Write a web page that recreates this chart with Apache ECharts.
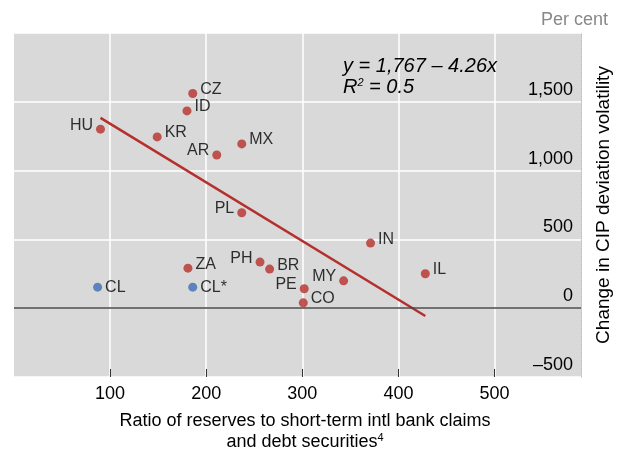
<!DOCTYPE html>
<html><head><meta charset="utf-8">
<script src="https://cdn.jsdelivr.net/npm/echarts@6/dist/echarts.min.js"></script>
<style>html,body{margin:0;padding:0;background:#fff}#c{width:621px;height:453px}</style>
</head><body><div id="c"></div>
<script>
const redCodes = ['CZ','ID','HU','KR','AR','MX','PL','IN','ZA','PH','BR','MY','PE','CO','IL'];
const redX = [186,180,90,149,211,237,237,371,181,256,266,343,302,301,428];
const redY = [1560,1434,1301,1245,1113,1194,694,473,291,335,284,199,141,39,250];
const redLabelSide = ['right','right','left','right','left','right','left','right','right','left','right','left','left','right','right'];
const blueCodes = ['CL','CL*'];
const blueX = [87,186];
const blueY = [153,153];
const fitIntercept = 1767, fitSlope = -4.26;
const fitXRange = [90, 428];
const xTicks = [100,200,300,400,500];
const yTicks = [-500,0,500,1000,1500];

const font = 'Liberation Sans, Arial, sans-serif';
const red = '#b5302c', blue = '#3c6db4', ink = '#000';

function pts(xs, ys, codes, sides){
  return xs.map((x,i)=>({value:[x,ys[i]], name:codes[i],
    label:{position: sides? sides[i]:'right'}}));
}
const fitData = fitXRange.map(x=>[x, fitIntercept + fitSlope*x]);

const chart = echarts.init(document.getElementById('c'), null, {renderer:'canvas'});
chart.setOption({
  animation:false,
  textStyle:{fontFamily:font},
  grid:{left:14, right:34, top:33, bottom:76, show:true, backgroundColor:'#d9d9d9', borderWidth:0},
  xAxis:{type:'value', min:0, max:590, interval:100,
    axisLine:{show:false, onZero:false},
    axisTick:{show:true, inside:true, length:8, customValues:xTicks, lineStyle:{color:'#333', width:1}},
    axisLabel:{customValues:xTicks, color:ink, fontSize:18, margin:8, fontFamily:font},
    splitLine:{show:true, lineStyle:{color:'#fff', width:1.5}}
  },
  yAxis:{type:'value', position:'right', min:-500, max:2000, interval:500,
    axisLine:{show:true, onZero:false, lineStyle:{color:'#bbb', type:'dotted', width:1}},
    axisTick:{show:false},
    axisLabel:{inside:true, margin:8, customValues:yTicks, verticalAlign:'bottom', padding:[0,0,3,0],
      color:ink, fontSize:18, fontFamily:font,
      formatter:v=> v<0 ? '\u2013'+Math.abs(v).toLocaleString('en-US') : v.toLocaleString('en-US')},
    splitLine:{show:true, lineStyle:{color:'#fff', width:1.5}},
    name:'Change in CIP deviation volatility', nameLocation:'middle', nameRotate:90, nameGap:13,
    nameTextStyle:{color:ink, fontSize:19, fontFamily:font}
  },
  series:[
    {type:'line', data:fitData, symbol:'none', lineStyle:{color:red, width:2.5}, z:2,
     markLine:{silent:true, symbol:'none', label:{show:false}, lineStyle:{color:'#444', width:1.5, type:'solid'},
       data:[{yAxis:0}]}},
    {type:'scatter', data:pts(redX, redY, redCodes, redLabelSide), symbolSize:9, itemStyle:{color:red}, z:3,
     label:{show:true, formatter:p=>p.name, color:ink, fontSize:16, fontFamily:font, distance:3, offset:[0,-4]}},
    {type:'scatter', data:pts(blueX, blueY, blueCodes), symbolSize:9, itemStyle:{color:blue}, z:3,
     label:{show:true, formatter:p=>p.name, color:ink, fontSize:16, fontFamily:font, distance:3, offset:[0,0]}}
  ],
  graphic:[
    {type:'text', z:100, x:608, y:20, style:{text:'Per cent', fill:'#888', font:'18px '+font, align:'right', verticalAlign:'middle'}},
    {type:'text', z:100, x:343, y:56, style:{
      text:'{i|y = 1,767 \u2013 4.26x}\n{i|R}{s|2}{i| = 0.5}',
      rich:{i:{fontSize:20, fontStyle:'italic', fontFamily:font, fill:ink, lineHeight:21},
            s:{fontSize:11, fontStyle:'italic', fontFamily:font, fill:ink, lineHeight:21, padding:[0,0,9,0]}}}},
    {type:'text', z:100, x:305, y:411, style:{
      text:'{n|Ratio of reserves to short-term intl bank claims}\n{n|and debt securities}{s|4}',
      align:'center', verticalAlign:'top',
      rich:{n:{fontSize:18, fontFamily:font, fill:ink, lineHeight:21},
            s:{fontSize:11, fontFamily:font, fill:ink, lineHeight:21, padding:[0,0,10,0]}}}}
  ]
});
</script></body></html>
